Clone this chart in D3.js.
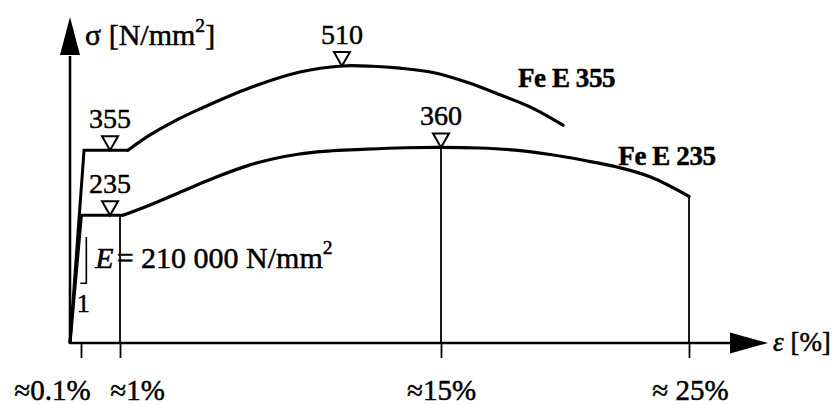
<!DOCTYPE html>
<html>
<head>
<meta charset="utf-8">
<script src="https://cdn.jsdelivr.net/npm/d3@7"></script>
<style>
  html, body { margin: 0; padding: 0; background: #fff; }
  svg { display: block; }
  text { font-family: "Liberation Serif", "Times New Roman", serif; fill: #000; stroke: #000; stroke-width: 0.5px; }
</style>
</head>
<body>
<svg id="chart" width="832" height="405"></svg>
<script>
// ---------- data ----------
const strainTicks = [0.1, 1, 15, 25];
const strainTickLabels = ["≈0.1%", "≈1%", "≈15%", "≈ 25%"];

// elastic line + yield plateau (strain %, stress N/mm²)
const feE355Elastic = [[0, 0], [0.17, 355], [1.35, 355]];
const feE355Hardening = [[1.35, 355], [2.31, 383], [3.40, 409], [4.49, 431], [6.67, 470], [8.85, 499],
  [10.68, 510], [12.0, 509.5], [13.21, 506], [14.65, 498], [16.05, 480], [17.38, 457], [18.71, 432], [19.92, 401]];

const feE235Elastic = [[0, 0], [0.11, 235], [1.13, 235]];
const feE235Hardening = [[1.13, 235], [2.31, 254], [3.75, 280], [5.23, 306], [6.67, 328], [8.11, 343],
  [9.59, 352], [11.77, 357], [13.5, 359.5], [15, 360], [16.5, 359], [18.0, 355], [19.4, 347],
  [20.8, 336], [22.1, 324], [23.43, 306], [25, 270]];

// characteristic values (strain %, stress, label)
const markerStrain = [0.77, 0.77, 10.68, 15];
const markerStress = [355, 235, 510, 360];
const markerLabels = ["355", "235", "510", "360"];

// vertical reference lines (strain %, stress at top)
const dropStrain = [1, 15, 25];
const dropStress = [235, 360, 270];

const seriesNames = ["Fe E 355", "Fe E 235"];
const seriesLabelAt = [[18.1, 471], [22.15, 328]];   // anchor in data space

const modulusText = "= 210 000 N/mm";
const slopeMark = { strain: 0.2, top: 195, bottom: 110 };

// ---------- scales ----------
const svg = d3.select("#chart");
const x = d3.scaleLinear().domain([0, 0.1, 1, 15, 25]).range([70, 81, 120, 441, 689]);
const y = d3.scaleLinear().domain([0, 510]).range([343, 66]);

const FS = 28;
const g = svg.append("g");

// ---------- axes ----------
const x0 = x(0), y0 = y(0);
// y axis with arrow
g.append("line").attr("x1", x0).attr("x2", x0).attr("y1", y0 + 1).attr("y2", y(510) - 10)
  .attr("stroke", "#000").attr("stroke-width", 2.6);
const yTip = y(510) - 49;
g.append("path").attr("d", `M${x0},${yTip} L${x0 + 10},${yTip + 38} L${x0 - 10},${yTip + 38} Z`).attr("fill", "#000");
g.append("text").attr("x", x0 + 15).attr("y", yTip + 28).attr("font-size", FS + 2)
  .call(t => {
    t.append("tspan").text("σ [N/mm");
    t.append("tspan").attr("font-size", FS * 0.7).attr("dy", -13).text("2");
    t.append("tspan").attr("dy", 13).text("]");
  });

// x axis with arrow
const xEnd = x(25) + 41;
g.append("line").attr("x1", x0 - 1).attr("x2", xEnd).attr("y1", y0).attr("y2", y0)
  .attr("stroke", "#000").attr("stroke-width", 2.6);
g.append("path").attr("d", `M${xEnd + 38},${y0} L${xEnd},${y0 - 10.5} L${xEnd},${y0 + 10.5} Z`).attr("fill", "#000");
g.append("text").attr("x", xEnd + 43).attr("y", y0 + 8).attr("font-size", FS - 1)
  .call(t => {
    t.append("tspan").attr("font-style", "italic").text("ε");
    t.append("tspan").text(" [%]");
  });

// ticks via d3 axis
const tickDx = [-29, 17, 0, 1];
const xAxis = d3.axisBottom(x).tickValues(strainTicks).tickSize(15).tickFormat((d, i) => strainTickLabels[i]);
const ax = g.append("g").attr("transform", `translate(0,${y0})`).call(xAxis);
ax.select(".domain").remove();
ax.selectAll(".tick line").attr("stroke", "#000").attr("stroke-width", 1.8);
ax.selectAll(".tick text")
  .attr("font-size", FS + 1).attr("font-family", "Liberation Serif")
  .attr("fill", "#000").attr("y", 57).attr("dy", 0)
  .attr("dx", (d, i) => tickDx[i]);

// vertical reference lines
g.selectAll(".drop").data(dropStrain).join("line")
  .attr("x1", d => x(d)).attr("x2", d => x(d))
  .attr("y1", (d, i) => y(dropStress[i])).attr("y2", y0)
  .attr("stroke", "#000").attr("stroke-width", 1.8);

// ---------- curves ----------
const lin = d3.line().x(d => x(d[0])).y(d => y(d[1]));
const smooth = d3.line().x(d => x(d[0])).y(d => y(d[1])).curve(d3.curveCatmullRom.alpha(0.5));
[feE355Elastic, feE235Elastic].forEach(s => {
  g.append("path").attr("d", lin(s)).attr("fill", "none").attr("stroke", "#000")
    .attr("stroke-width", 3).attr("stroke-linejoin", "miter");
});
[feE355Hardening, feE235Hardening].forEach(s => {
  g.append("path").attr("d", smooth(s)).attr("fill", "none").attr("stroke", "#000")
    .attr("stroke-width", 3.2).attr("stroke-linecap", "round");
});

// series labels
g.selectAll(".slabel").data(seriesNames).join("text")
  .attr("x", (d, i) => x(seriesLabelAt[i][0]))
  .attr("y", (d, i) => y(seriesLabelAt[i][1]))
  .attr("font-size", FS - 1).attr("font-weight", "bold").attr("letter-spacing", -0.4)
  .text(d => d);

// ---------- markers ----------
const mk = g.selectAll(".mk").data(markerStrain).join("g")
  .attr("transform", (d, i) => `translate(${x(d)},${y(markerStress[i])})`);
mk.append("path").attr("d", "M0,0 L-8,-14 L8,-14 Z")
  .attr("fill", "#fff").attr("stroke", "#000").attr("stroke-width", 2);
mk.append("text").attr("text-anchor", "middle").attr("y", -22).attr("font-size", FS)
  .text((d, i) => markerLabels[i]);

// ---------- modulus annotation ----------
const sx = x(slopeMark.strain) + 1;
g.append("path")
  .attr("d", `M${sx},${y(slopeMark.top)} V${y(slopeMark.bottom)} H${sx - 6}`)
  .attr("fill", "none").attr("stroke", "#000").attr("stroke-width", 1.6);
g.append("text").attr("x", sx - 3).attr("y", y(slopeMark.bottom) + 29)
  .attr("text-anchor", "middle").attr("font-size", FS - 2).text("1");
g.append("text").attr("x", sx + 9).attr("y", y(slopeMark.top) + 31).attr("font-size", FS + 2)
  .call(t => {
    t.append("tspan").attr("font-style", "italic").text("E");
    t.append("tspan").attr("dx", 3).text(modulusText);
    t.append("tspan").attr("font-size", FS * 0.7).attr("dy", -14).text("2");
  });
</script>
</body>
</html>
